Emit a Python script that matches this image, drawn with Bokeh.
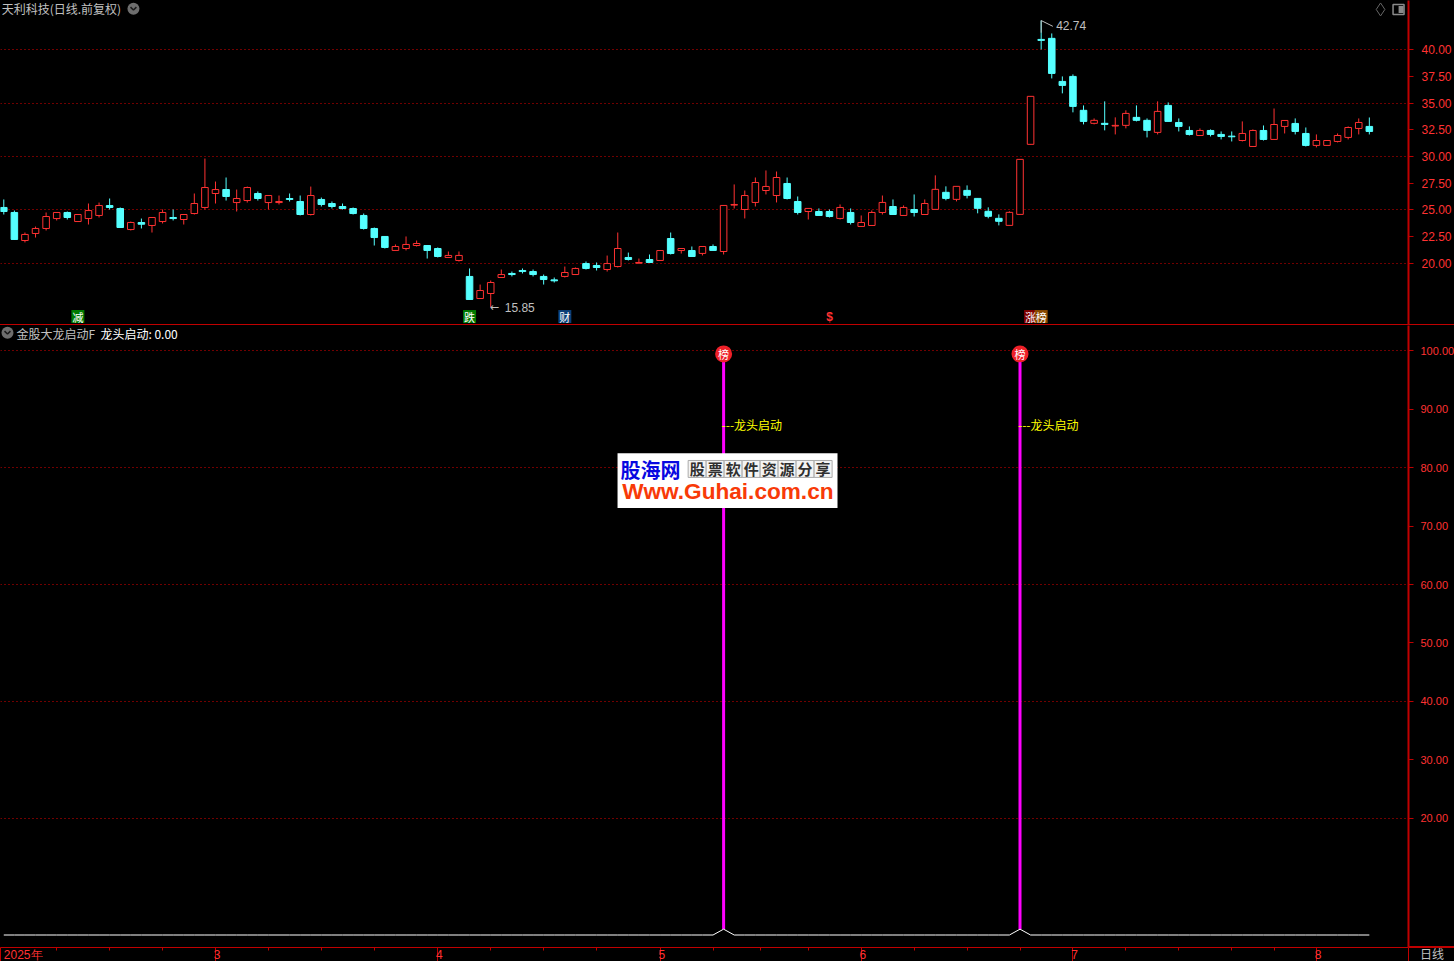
from bokeh.plotting import figure
from bokeh.layouts import column
from bokeh.embed import file_html
from bokeh.resources import INLINE
from bokeh.core.properties import value
from bokeh.models import (ColumnDataSource, FixedTicker, Range1d, Div,
                          GlobalInlineStyleSheet)

open_ = [25.21,24.74,22.11,22.77,23.24,24.17,24.74,23.89,24.17,24.46,
 25.39,25.11,23.14,23.80,23.52,23.89,24.27,24.08,24.64,25.21,
 26.52,26.89,25.67,25.86,26.52,25.67,25.67,26.05,25.77,24.55,
 25.96,25.58,25.30,25.11,24.46,23.24,22.49,21.18,21.36,21.64,
 21.64,21.36,20.52,20.24,18.74,16.67,17.14,18.64,19.02,19.30,
 19.20,18.74,18.42,18.74,18.92,19.95,19.77,19.39,19.67,20.52,
 19.98,20.33,20.24,22.30,21.17,21.17,20.90,21.55,21.08,25.43,
 25.02,25.68,26.80,26.33,27.46,25.77,24.83,24.83,24.83,24.18,
 24.74,23.43,23.52,24.74,25.30,24.46,25.02,24.55,25.03,26.63,
 25.97,26.81,26.06,24.85,24.19,23.53,24.56,31.13,40.97,41.07,
 37.03,37.50,34.32,33.10,33.10,32.85,32.91,33.66,33.38,32.25,
 34.78,33.18,32.43,31.96,32.43,32.06,31.90,31.49,30.93,32.43,
 31.59,32.81,33.09,32.15,31.03,31.03,31.40,31.78,32.62,32.81]
close = [24.83,22.21,22.68,23.24,24.36,24.74,24.27,24.55,24.92,25.39,
 25.21,23.33,23.80,23.64,24.27,24.74,24.17,24.55,25.58,27.08,
 26.89,26.24,26.05,27.08,26.05,26.33,25.77,25.96,24.55,26.33,
 25.49,25.30,25.11,24.64,23.24,22.39,21.46,21.55,21.74,21.83,
 21.18,20.61,20.71,20.71,16.58,17.42,18.17,18.92,18.92,19.20,
 18.92,18.45,18.33,19.11,19.49,19.49,19.58,19.95,21.36,20.33,
 20.05,20.05,21.17,20.89,21.36,20.61,21.55,21.18,25.40,25.49,
 26.33,27.55,27.18,28.02,26.05,24.74,25.12,24.46,24.36,25.21,
 23.80,23.80,24.74,25.68,24.55,25.21,24.74,25.58,26.91,26.06,
 27.19,26.35,25.13,24.38,23.91,24.75,29.72,35.63,40.88,37.78,
 36.66,34.69,33.28,33.38,33.00,32.91,34.03,33.38,32.44,34.22,
 33.28,32.81,32.06,32.43,32.06,31.87,31.84,32.15,32.43,31.59,
 32.99,33.37,32.34,31.03,31.49,31.49,31.96,32.71,33.18,32.34]
high = [25.96,24.92,22.86,23.42,24.74,24.74,24.83,24.55,25.58,25.67,
 26.05,25.21,23.89,24.17,24.27,25.02,25.02,24.55,26.52,29.80,
 27.64,28.02,26.89,27.17,26.71,26.33,26.33,26.52,26.33,27.17,
 26.14,25.77,25.58,25.21,24.64,23.33,22.49,21.74,22.49,22.11,
 21.64,21.46,21.08,21.08,19.49,17.98,18.36,19.39,19.20,19.49,
 19.39,18.92,18.64,19.67,19.58,20.14,20.05,20.70,22.86,20.98,
 20.42,20.80,21.17,22.86,21.36,21.55,21.55,21.74,25.40,27.37,
 26.80,28.02,28.68,28.58,28.02,26.24,25.12,25.12,25.02,25.49,
 25.12,24.46,24.93,26.33,25.96,25.40,26.43,25.96,28.22,27.19,
 27.19,27.28,26.06,25.22,24.56,24.85,29.72,35.63,42.74,41.53,
 37.50,37.69,34.78,33.56,35.16,33.66,34.32,34.78,33.56,35.16,
 35.06,33.56,32.81,32.62,32.53,32.34,32.34,33.28,32.53,32.90,
 34.49,33.37,33.56,32.71,32.06,31.49,32.15,32.81,33.56,33.65]
low = [24.55,22.21,21.93,22.39,23.05,23.99,24.08,23.89,23.61,24.27,
 25.02,23.33,23.05,23.24,22.86,23.71,23.99,23.61,24.55,25.02,
 25.58,25.86,24.83,25.67,25.86,25.02,25.49,25.77,24.46,24.46,
 25.30,25.11,25.02,24.55,23.14,21.64,21.36,21.18,21.18,21.55,
 20.42,20.52,20.52,20.14,16.58,16.67,15.85,18.64,18.74,19.02,
 18.74,17.98,18.17,18.64,18.92,19.39,19.30,19.20,19.58,20.24,
 19.98,20.05,20.24,20.80,20.89,20.61,20.71,21.18,20.80,25.11,
 24.18,25.30,26.43,25.68,25.96,24.55,24.08,24.46,24.27,24.08,
 23.61,23.43,23.52,24.55,24.55,24.46,24.36,24.55,25.03,25.88,
 25.78,26.06,24.66,24.19,23.53,23.53,24.56,31.13,40.03,37.31,
 35.91,34.13,33.00,33.00,32.44,32.06,32.63,33.28,31.78,32.06,
 33.28,32.34,31.96,31.96,31.87,31.59,31.40,31.40,30.93,31.49,
 31.59,32.15,32.06,30.93,30.84,31.03,31.31,31.59,32.06,32.06]

signal = [0]*68 + [1] + [0]*27 + [1] + [0]*33
signal_days = [68, 96]
signal_top = [99.5, 99.5]
signal_base = [1, 1]

price_ticks = [20, 22.5, 25, 27.5, 30, 32.5, 35, 37.5, 40]
price_grid = [20, 25, 30, 35, 40]
ind_ticks = [20, 30, 40, 50, 60, 70, 80, 90, 100]
ind_grid = [20, 40, 60, 80, 100]
month_ticks = [-0.3, 20, 41, 62, 81, 101, 124, 132.7]
month_labels = ["2025年", "3", "4", "5", "6", "7", "8", ""]
minor_days = [5, 10, 15, 25, 30, 35, 46, 51, 56, 67, 71.5, 76, 86, 91, 96, 106, 111, 116, 120]

tag_days = [7, 44, 53, 97, 98]
tag_texts = ["减", "跌", "财", "涨", "榜"]
tag_colors = ["#007a00", "#007a00", "#0a3f78", "#800000", "#8a4a00"]

RED = "#ff3232"
DARK = "#c00000"
CYAN = "#55ffff"
GRAY = "#c0c0c0"
CJK = value("Noto Sans CJK SC")
SANS = value("Liberation Sans")

FRAME_W = 1408
TOP_H = 325
BOT_H = 622
days = list(range(len(open_)))
x_range = Range1d(-0.31, 132.7)


def panel(h, y0, y1, ticks, grid, bottom, label_px, standoff):
    p = figure(width=1454, height=h + bottom, frame_width=FRAME_W, frame_height=h,
               x_range=x_range, y_range=Range1d(y0, y1),
               x_axis_location="below" if bottom else None, y_axis_location="right",
               output_backend="svg", toolbar_location=None,
               background_fill_color="black", border_fill_color="black",
               min_border_left=0, min_border_right=46, min_border_top=0, min_border_bottom=bottom)
    p.outline_line_color = None
    p.xgrid.visible = False
    p.ygrid.ticker = FixedTicker(ticks=grid)
    p.ygrid.grid_line_color = "#e00000"
    p.ygrid.grid_line_dash = "1 3"
    p.ygrid.grid_line_width = 1
    ax = p.yaxis[0]
    ax.ticker = FixedTicker(ticks=ticks)
    ax.major_label_overrides = {t: f"{t:.2f}" for t in ticks}
    ax.axis_line_color = DARK
    ax.axis_line_width = 2
    ax.major_tick_line_color = DARK
    ax.major_tick_out = 5
    ax.major_tick_in = 0
    ax.minor_tick_line_color = None
    ax.major_label_standoff = standoff
    ax.major_label_text_color = RED
    ax.major_label_text_font = "Liberation Sans"
    ax.major_label_text_font_size = label_px
    return p


# ---------------- price panel
p1 = panel(TOP_H, 14.14, 44.62, price_ticks, price_grid, 0, "12px", 8)
up = [c >= o for o, c in zip(open_, close)]
src = ColumnDataSource(dict(
    x=days, high=high, low=low,
    top=[max(o, c) for o, c in zip(open_, close)],
    bottom=[min(o, c) for o, c in zip(open_, close)],
    line=[RED if u else CYAN for u in up],
    fill=["black" if u else CYAN for u in up],
))
p1.segment("x", "high", "x", "low", source=src, line_color="line", line_width=1)
p1.vbar("x", 0.62, "bottom", "top", source=src, line_color="line", fill_color="fill", line_width=1)

p1.text([46], [15.85], text=["←"], text_color=GRAY, text_font=value("DejaVu Sans"), text_font_size="11px",
        text_baseline="middle", x_offset=-1)
p1.text([46], [15.85], text=["15.85"], text_color=GRAY, text_font=SANS, text_font_size="12px",
        text_baseline="middle", x_offset=14)
p1.line([98, 98, 99.1], [41.6, 42.74, 42.2], line_color=GRAY, line_width=1)
p1.text([98], [42.74], text=["42.74"], text_color=GRAY, text_font=SANS, text_font_size="12px",
        text_baseline="middle", x_offset=15, y_offset=5)

p1.text([-0.2], [43.78], text=["天利科技(日线.前复权)"], text_color=GRAY, text_font=CJK,
        text_font_size="12px", text_baseline="middle", y_offset=-1)
p1.scatter([12.25], [43.85], marker="circle", size=12, fill_color="#6e6e6e", line_color=None)
p1.line([11.97, 12.25, 12.53], [44.0, 43.72, 44.0], line_color="#1a1a1a", line_width=1.5)

p1.scatter([130.06], [43.78], marker="diamond", size=13, fill_color=None, line_color="#666666")
p1.rect([131.76], [43.78], width=11, height=10, width_units="screen", height_units="screen",
        fill_color=None, line_color="#8a8a8a", line_width=1.5)
p1.rect([132.0], [43.78], width=5, height=7, width_units="screen", height_units="screen",
        fill_color="#8a8a8a", line_color=None)

tag_y = [14.98] * len(tag_days)
p1.rect(tag_days, tag_y, width=[13] * len(tag_days), height=13, width_units="screen", height_units="screen",
        fill_color=tag_colors, line_color=None)
p1.text(tag_days, tag_y, text=tag_texts, text_color="white", text_font=CJK, text_font_size="11px",
        text_align="center", text_baseline="middle")
p1.text([78], [14.9], text=["$"], text_color=RED, text_font=SANS,
        text_font_size="12px", text_align="center", text_baseline="middle", text_font_style="bold")

# ---------------- indicator panel
p2 = panel(BOT_H, -2.14, 104.36, ind_ticks, ind_grid, 14, "11px", 7)
p2.segment(signal_days, signal_base, signal_days, signal_top, line_color="#ff00ff", line_width=3)
p2.line(days, signal, line_color="white", line_width=1)
p2.scatter(signal_days, signal_top, marker="circle", size=17, fill_color="#ee2028", line_color=None)
p2.text(signal_days, signal_top, text=["榜", "榜"], text_color="white", text_font=CJK, text_font_size="11px",
        text_align="center", text_baseline="middle")
p2.text(signal_days, [87.2, 87.2], text=["---龙头启动", "---龙头启动"], text_color="#ffff00", text_font=CJK,
        text_font_size="12px", text_baseline="middle", x_offset=-2, y_offset=-1)

p2.scatter([0.35], [103.1], marker="circle", size=12, fill_color="#6e6e6e", line_color=None)
p2.line([0.07, 0.35, 0.63], [103.4, 102.9, 103.4], line_color="#1a1a1a", line_width=1.5)
p2.text([1.2], [102.85], text=["金股大龙启动F"], text_color=GRAY, text_font=CJK, text_font_size="12px",
        text_baseline="middle", y_offset=-1)
p2.text([9.13], [102.85], text=["龙头启动: 0.00"], text_color="white", text_font=CJK, text_font_size="12px",
        text_baseline="middle", y_offset=-1)

# site stamp
p2.rect([68.37], [77.8], width=20.78, height=9.4, fill_color="white", line_color=None)
p2.text([61.1], [79.6], text=["股海网"], text_color="#0808e0", text_font=CJK, text_font_style="bold",
        text_font_size="20px", text_align="center", text_baseline="middle", y_offset=-1)
cell_days = [65.5 + 1.7 * k for k in range(8)]
p2.rect(cell_days, [79.8] * 8, width=1.7, height=2.9, fill_color="#f4f4f4", line_color="#aaaaaa")
p2.text(cell_days, [79.8] * 8, text=list("股票软件资源分享"), text_color="#303030", text_font=CJK,
        text_font_size="15px", text_align="center", text_baseline="middle", text_font_style="bold")
p2.text([68.4], [75.9], text=["Www.Guhai.com.cn"], text_color="#f83a08", text_font=SANS, text_font_style="bold",
        text_font_size="22.6px", text_align="center", text_baseline="middle")

xax = p2.xaxis[0]
xax.ticker = FixedTicker(ticks=month_ticks, minor_ticks=minor_days)
xax.major_label_overrides = {t: "\u00a0" + s for t, s in zip(month_ticks, month_labels)}
xax.major_label_text_align = "left"
xax.major_label_text_color = RED
xax.major_label_text_font = "Liberation Sans"
xax.major_label_text_font_size = "12px"
xax.major_label_standoff = -14
xax.axis_line_color = DARK
xax.axis_line_width = 1
xax.major_tick_line_color = DARK
xax.major_tick_out = 14
xax.major_tick_in = 0
xax.minor_tick_line_color = DARK
xax.minor_tick_out = 3
xax.minor_tick_in = 0


def strip(left, top, w, h, color):
    return Div(text="", width=w, height=h, margin=0,
               styles={"position": "absolute", "left": f"{left}px", "top": f"{top}px", "background": color})


separator = strip(0, 324, 1454, 1, DARK)
corner = strip(1409, 946, 45, 2, DARK)
day_label = Div(text="日线", width=30, height=14, margin=0,
                styles={"position": "absolute", "left": "1420px", "top": "947px", "color": GRAY,
                        "font": "12px/14px 'Noto Sans CJK SC'"})

page = column(p1, p2, separator, corner, day_label, spacing=0,
              stylesheets=[GlobalInlineStyleSheet(css="html,body{background:#000;}")])
open("out.html", "w").write(file_html(page, INLINE))
